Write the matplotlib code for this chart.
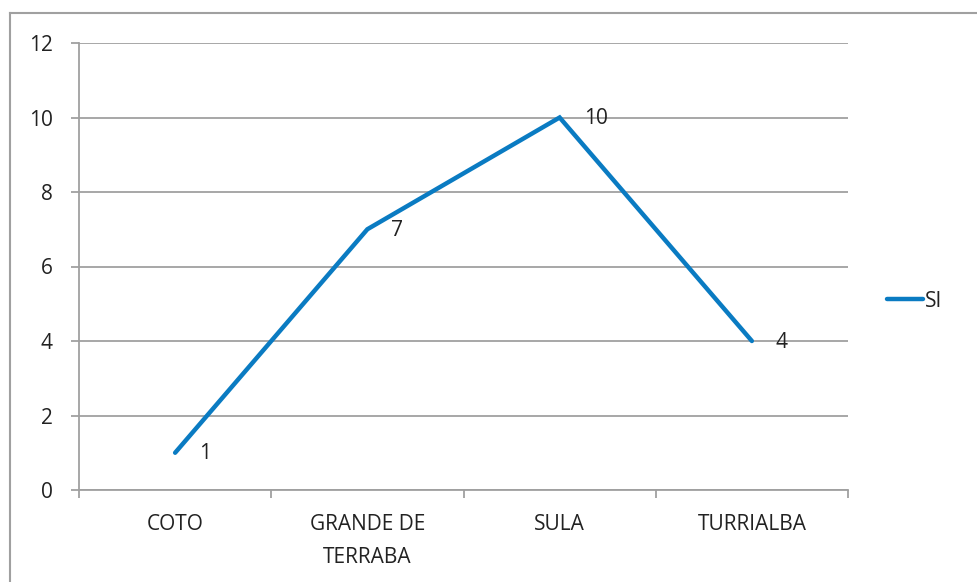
import matplotlib.pyplot as plt
from matplotlib.lines import Line2D

categories = ["COTO", "GRANDE DE\nTERRABA", "SULA", "TURRIALBA"]
si_values = [1, 7, 10, 4]
y_ticks = [0, 2, 4, 6, 8, 10, 12]

plt.rcParams['font.family'] = ['Open Sans', 'DejaVu Sans']

W, H = 977, 582
fig = plt.figure(figsize=(W / 100, H / 100), dpi=100)
ax = fig.add_axes([79 / W, 1 - 490 / H, (848 - 79) / W, (490 - 43) / H])

grey = '#a0a0a0'
text_col = '#222222'
blue = '#0a7bc2'
fs = 15

x = list(range(len(categories)))
ax.plot(x, si_values, color=blue, linewidth=3.2, solid_capstyle='round',
        solid_joinstyle='miter', label='SI', zorder=3)
for xi, v in zip(x, si_values):
    ax.annotate(str(v), (xi, v), xytext=(24, -1), textcoords='offset pixels',
                ha='left', va='center', fontsize=fs, color=text_col)

ax.set_xlim(-0.5, len(categories) - 0.5)
ax.set_ylim(0, 12)
ax.set_yticks(y_ticks)
ax.set_yticklabels([str(t) for t in y_ticks], fontsize=fs, color=text_col)
ax.tick_params(axis='y', length=6, width=1.3, color=grey, pad=13)

# category labels between boundary ticks
ax.set_xticks([i - 0.5 for i in range(len(categories) + 1)])
ax.set_xticklabels([])
ax.tick_params(axis='x', length=6, width=1.3, color=grey)
ax.set_xticks(x, minor=True)
ax.set_xticklabels(categories, minor=True, fontsize=fs, color=text_col,
                   linespacing=1.8, va='top')
ax.tick_params(axis='x', which='minor', length=0, pad=17)

ax.grid(axis='y', color=grey, linewidth=1.3)
ax.set_axisbelow(True)
for side in ['top', 'right']:
    ax.spines[side].set_visible(False)
for side in ['left', 'bottom']:
    ax.spines[side].set_color(grey)
    ax.spines[side].set_linewidth(1.3)

fig.legend(loc='center left', bbox_to_anchor=(887 / W, 1 - 301 / H),
           frameon=False, handlelength=1.75, handletextpad=0.05,
           borderpad=0, borderaxespad=0,
           fontsize=fs, labelcolor=text_col)

# outer chart frame (only top and left edges visible)
fig.add_artist(Line2D([10 / W, 1.0], [1 - 13 / H, 1 - 13 / H],
                      transform=fig.transFigure, color=grey, linewidth=1.5))
fig.add_artist(Line2D([10 / W, 10 / W], [0, 1 - 13 / H],
                      transform=fig.transFigure, color=grey, linewidth=1.5))

fig.savefig('out.png', dpi=100)
